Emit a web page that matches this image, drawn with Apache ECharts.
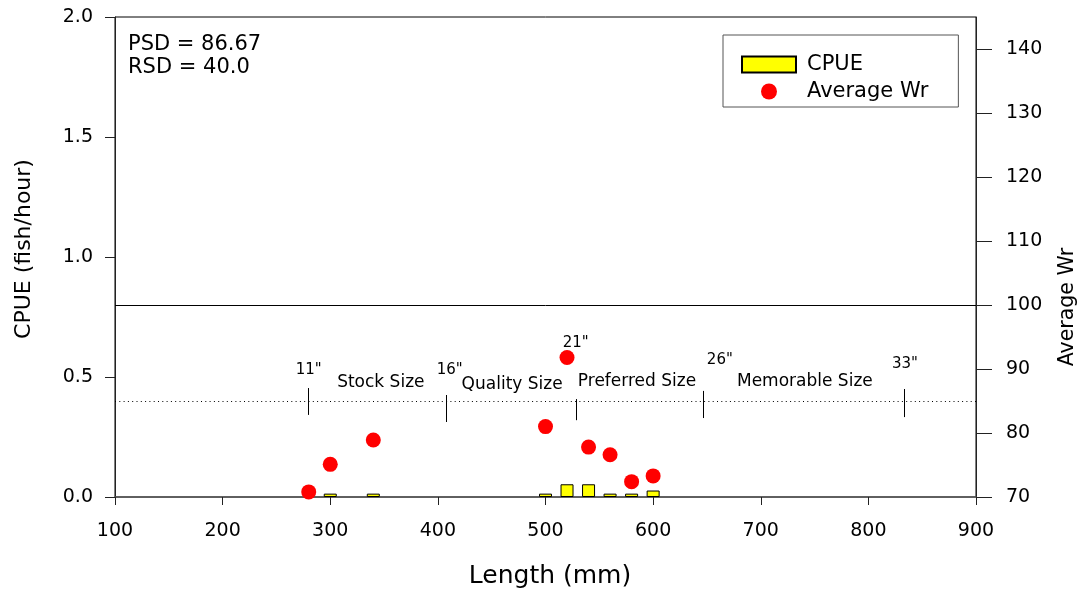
<!DOCTYPE html>
<html>
<head>
<meta charset="utf-8">
<script src="https://cdn.jsdelivr.net/npm/echarts@6/dist/echarts.min.js"></script>
<style>
  html, body { margin: 0; padding: 0; background: #fff; }
  #chart { width: 1086px; height: 590px; }
</style>
</head>
<body>
<div id="chart"></div>
<script>
// ---- data ----
const X_TICKS = [100, 200, 300, 400, 500, 600, 700, 800, 900];
const LEFT_TICKS = [0.0, 0.5, 1.0, 1.5, 2.0];
const RIGHT_TICKS = [70, 80, 90, 100, 110, 120, 130, 140];

const CPUE_LENGTH = [300, 340, 500, 520, 540, 560, 580, 600];
const CPUE_VALUE  = [0.014, 0.014, 0.014, 0.053, 0.053, 0.014, 0.014, 0.027];

const WR_LENGTH = [280, 300, 340, 500, 520, 540, 560, 580, 600];
const WR_VALUE  = [70.8, 75.1, 78.9, 81.0, 91.8, 77.8, 76.6, 72.4, 73.3];

const WR_REFERENCE = 100;
const CPUE_REFERENCE = 0.4;

const INCH_LABELS = ['11"', '16"', '21"', '26"', '33"'];
const INCH_MARK_MM = [280, 408, 529, 647, 833];
const INCH_MARK_TOP = [0.454, 0.425, 0.408, 0.442, 0.45];
const INCH_MARK_BOTTOM = [0.342, 0.3125, 0.32, 0.329, 0.333];
const INCH_LABEL_MM = [280, 411, 528, 662, 834];
const INCH_LABEL_CPUE = [0.53, 0.53, 0.64, 0.57, 0.553];

const SIZE_NAMES = ['Stock Size', 'Quality Size', 'Preferred Size', 'Memorable Size'];
const SIZE_LABEL_MM = [347, 469, 585, 741];
const SIZE_LABEL_CPUE = [0.475, 0.467, 0.48, 0.48];

const STATS_TEXT = ['PSD = 86.67', 'RSD = 40.0'];

// ---- chart ----
const FONT = 'DejaVu Sans';
const chart = echarts.init(document.getElementById('chart'), null, { renderer: 'canvas' });

const cpueData = CPUE_LENGTH.map((x, i) => [x, CPUE_VALUE[i]]);
const wrData = WR_LENGTH.map((x, i) => [x, WR_VALUE[i]]);
const markSegments = INCH_MARK_MM.map((x, i) => [
  { coord: [x, INCH_MARK_TOP[i]] },
  { coord: [x, INCH_MARK_BOTTOM[i]] }
]);
const inchLabelData = INCH_LABELS.map((n, i) => ({ name: n, value: [INCH_LABEL_MM[i], INCH_LABEL_CPUE[i]] }));
const sizeLabelData = SIZE_NAMES.map((n, i) => ({ name: n, value: [SIZE_LABEL_MM[i], SIZE_LABEL_CPUE[i]] }));

const option = {
  animation: false,
  textStyle: { fontFamily: FONT, color: '#000' },
  title: {
    text: STATS_TEXT.join('\n'),
    left: 128, top: 33, padding: 0,
    textStyle: { fontFamily: FONT, fontSize: 21, fontWeight: 'normal', color: '#000', lineHeight: 23 }
  },
  legend: {
    orient: 'vertical',
    left: 723, top: 35,
    padding: [19, 30, 5, 18],
    itemGap: 6,
    itemWidth: 54, itemHeight: 16,
    borderColor: '#555', borderWidth: 1,
    textStyle: { fontFamily: FONT, fontSize: 21, color: '#000', padding: [0, 0, 0, 6] },
    data: [{ name: 'CPUE', icon: 'rect' }, { name: 'Average Wr', icon: 'circle' }]
  },
  grid: {
    left: 115, right: 110, top: 17, bottom: 93,
    containLabel: false, outerBoundsMode: 'none',
    show: true, borderColor: '#000', borderWidth: 1, backgroundColor: 'transparent'
  },
  xAxis: {
    type: 'value', min: X_TICKS[0], max: X_TICKS[X_TICKS.length - 1], interval: 100,
    name: 'Length (mm)', nameLocation: 'middle', nameGap: 67,
    nameTextStyle: { fontFamily: FONT, fontSize: 25, color: '#000', padding: [0, 0, 0, 9] },
    axisLine: { show: true, onZero: false, lineStyle: { color: '#555', width: 1.6 } },
    axisTick: { show: true, inside: false, length: 8, lineStyle: { color: '#222', width: 1 } },
    axisLabel: { margin: 25, fontFamily: FONT, fontSize: 19, color: '#000' },
    splitLine: { show: false }
  },
  yAxis: [
    {
      type: 'value', min: 0, max: 2, interval: 0.5, position: 'left',
      name: 'CPUE (fish/hour)', nameLocation: 'middle', nameGap: 80,
      nameTextStyle: { fontFamily: FONT, fontSize: 22, color: '#000', padding: [0, 0, 0, 16] },
      axisLine: { show: true, lineStyle: { color: '#222', width: 1 } },
      axisTick: { show: true, length: 10, lineStyle: { color: '#222', width: 1 } },
      axisLabel: { margin: 22, fontFamily: FONT, fontSize: 19, color: '#000', formatter: v => v.toFixed(1) },
      splitLine: { show: false }
    },
    {
      type: 'value', min: 70, max: 145, interval: 10, position: 'right',
      name: 'Average Wr', nameLocation: 'middle', nameGap: 81,
      nameTextStyle: { fontFamily: FONT, fontSize: 20.5, color: '#000', padding: [0, 100, 0, 0] },
      axisLine: { show: true, lineStyle: { color: '#222', width: 1 } },
      axisTick: { show: true, length: 16, customValues: RIGHT_TICKS, lineStyle: { color: '#222', width: 1 } },
      axisLabel: {
        margin: 30, fontFamily: FONT, fontSize: 19, color: '#000', showMaxLabel: false,
        formatter: v => (RIGHT_TICKS.indexOf(v) >= 0 ? String(v) : '')
      },
      splitLine: { show: false }
    }
  ],
  series: [
    {
      name: 'CPUE', type: 'bar', xAxisIndex: 0, yAxisIndex: 0,
      barWidth: 13,
      itemStyle: { color: '#ffff00', borderColor: '#000', borderWidth: 1 },
      data: cpueData,
      z: 3,
      markLine: {
        silent: true, symbol: 'none', animation: false,
        label: { show: false },
        lineStyle: { color: '#000', width: 1, type: 'solid' },
        data: markSegments
      }
    },
    {
      name: 'Average Wr', type: 'scatter', xAxisIndex: 0, yAxisIndex: 1,
      symbol: 'circle', symbolSize: 15,
      itemStyle: { color: '#ff0000', borderWidth: 0, opacity: 1 },
      data: wrData,
      z: 4,
      markLine: {
        silent: true, symbol: 'none', animation: false,
        label: { show: false },
        lineStyle: { color: '#000', width: 1, type: 'solid' },
        data: [{ yAxis: WR_REFERENCE }]
      }
    },
    {
      name: 'refDotted', type: 'line', xAxisIndex: 0, yAxisIndex: 0,
      data: [], silent: true,
      markLine: {
        silent: true, symbol: 'none', animation: false,
        label: { show: false },
        lineStyle: { color: '#000', width: 1, type: [1, 3.3] },
        data: [{ yAxis: CPUE_REFERENCE }]
      }
    },
    {
      name: 'inchLabels', type: 'scatter', xAxisIndex: 0, yAxisIndex: 0,
      symbolSize: 0.1, itemStyle: { color: 'transparent', opacity: 1 }, silent: true,
      label: { show: true, position: 'inside', formatter: '{b}', fontFamily: FONT, fontSize: 15, color: '#000', opacity: 1 },
      data: inchLabelData
    },
    {
      name: 'sizeLabels', type: 'scatter', xAxisIndex: 0, yAxisIndex: 0,
      symbolSize: 0.1, itemStyle: { color: 'transparent', opacity: 1 }, silent: true,
      label: { show: true, position: 'inside', formatter: '{b}', fontFamily: FONT, fontSize: 17, color: '#000', opacity: 1 },
      data: sizeLabelData
    }
  ]
};
chart.setOption(option);
</script>
</body>
</html>
